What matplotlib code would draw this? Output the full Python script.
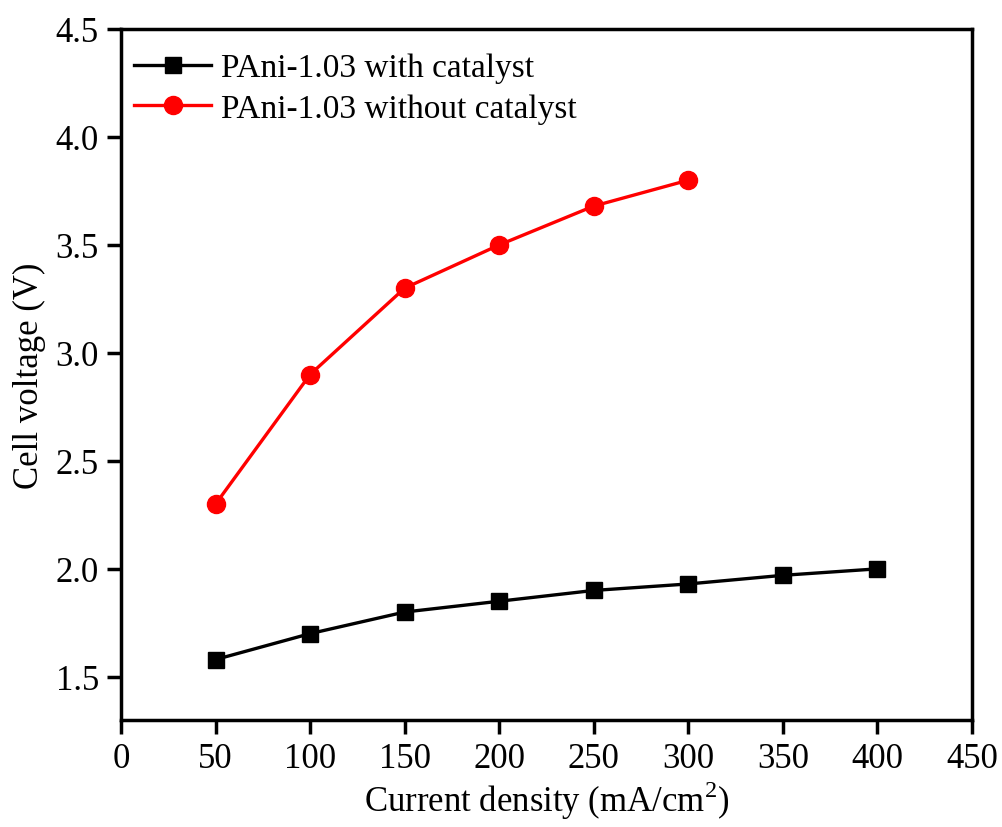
import matplotlib
matplotlib.use('Agg')
import matplotlib.pyplot as plt

# current density (mA/cm2) vs cell voltage (V)
x_cat = [50, 100, 150, 200, 250, 300, 350, 400]
v_cat = [1.58, 1.70, 1.80, 1.85, 1.90, 1.93, 1.97, 2.00]
x_nocat = [50, 100, 150, 200, 250, 300]
v_nocat = [2.30, 2.90, 3.30, 3.50, 3.68, 3.80]

plt.rcParams['font.family'] = ['Liberation Serif', 'DejaVu Serif']
plt.rcParams['mathtext.fontset'] = 'custom'
plt.rcParams['mathtext.rm'] = 'Liberation Serif'

fig = plt.figure(figsize=(10.03, 8.28), dpi=100)
ax = fig.add_axes([121 / 1003, 1 - 721 / 828, (972 - 121) / 1003, (721 - 30) / 828])

ax.plot(x_cat, v_cat, '-s', color='black', lw=2.4, ms=11, label='PAni-1.03 with catalyst')
ax.plot(x_nocat, v_nocat, '-o', color='red', lw=2.4, ms=13, label='PAni-1.03 without catalyst')

ax.set_xlim(0, 450)
ax.set_ylim(1.3, 4.5)
ax.set_xticks(range(0, 451, 50))
ax.set_yticks([1.5, 2.0, 2.5, 3.0, 3.5, 4.0, 4.5])
ax.tick_params(axis='both', direction='out', length=10, width=2.5, labelsize=25, pad=6)
ax.tick_params(top=False, right=False)
for sp in ax.spines.values():
    sp.set_linewidth(2.5)

ax.set_xlabel(r'Current density (mA/cm$^\mathregular{2}$)', fontsize=25, labelpad=2)
ax.set_ylabel('Cell voltage (V)', fontsize=25, labelpad=7)

ax.legend(loc='upper left', fontsize=24, frameon=False, handlelength=2.3,
          handletextpad=0.3, borderaxespad=0.0, labelspacing=0.3,
          bbox_to_anchor=(0.0, 0.985))

fig.savefig('out.png', dpi=100)
